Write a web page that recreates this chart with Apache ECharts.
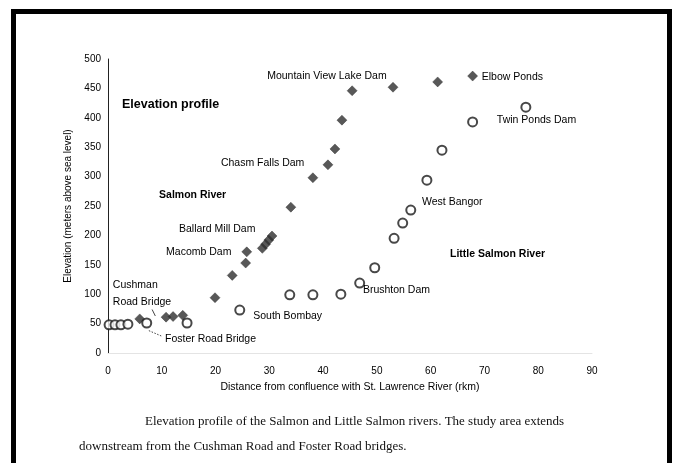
<!DOCTYPE html>
<html>
<head>
<meta charset="utf-8">
<script src="https://cdn.jsdelivr.net/npm/echarts@6/dist/echarts.min.js"></script>
<style>
html,body{margin:0;padding:0;background:#fff;}
#chart{width:673px;height:463px;}
</style>
</head>
<body>
<div id="chart"></div>
<script>
// Salmon River (filled diamonds): [distance rkm, elevation m]
const salmonRiver = [
  [5.9, 58], [10.8, 61], [12.1, 62], [13.9, 64], [19.9, 94], [23.1, 132],
  [25.6, 153], [25.8, 172], [28.7, 178], [29.3, 185], [29.9, 192], [30.5, 199],
  [34.0, 248], [38.1, 298], [40.9, 320], [42.2, 347], [43.5, 396], [45.4, 446],
  [53.0, 452], [61.3, 461], [67.8, 471]
];
// Little Salmon River (open circles)
const littleSalmonRiver = [
  [0.2, 48], [1.3, 48], [2.4, 48], [3.7, 49], [7.2, 51], [14.7, 51],
  [24.5, 73], [33.8, 99], [38.1, 99], [43.3, 100], [46.8, 119], [49.6, 145],
  [53.2, 195], [54.8, 221], [56.3, 243], [59.3, 294], [62.1, 345], [67.8, 393],
  [77.7, 418]
];
const xTicks = [0, 10, 20, 30, 40, 50, 60, 70, 80, 90];
const yTicks = [0, 50, 100, 150, 200, 250, 300, 350, 400, 450, 500];
// Annotations: [x, y, text]
const siteLabels = [
  [29.6, 471, 'Mountain View Lake Dam'],
  [69.5, 469, 'Elbow Ponds'],
  [72.3, 396, 'Twin Ponds Dam'],
  [21.0, 323, 'Chasm Falls Dam'],
  [58.4, 257, 'West Bangor'],
  [13.2, 211, 'Ballard Mill Dam'],
  [10.8, 172, 'Macomb Dam'],
  [0.9, 116, 'Cushman'],
  [0.9, 87, 'Road Bridge'],
  [47.4, 107, 'Brushton Dam'],
  [27.0, 63, 'South Bombay'],
  [10.6, 24, 'Foster Road Bridge']
];
const riverLabels = [
  [9.5, 269, 'Salmon River'],
  [63.6, 168, 'Little Salmon River']
];
const titleLabel = [[2.6, 423, 'Elevation profile']];
const captionLines = [
  'Elevation profile of the Salmon and Little Salmon rivers. The study area extends',
  'downstream from the Cushman Road and Foster Road bridges.'
];

const sans = 'Liberation Sans, Arial, sans-serif';
const ink = '#000';
const chart = echarts.init(document.getElementById('chart'), null, {renderer: 'canvas'});

function textSeries(arr, size, weight) {
  return {
    type: 'scatter', symbolSize: 0, silent: true, z: 5,
    data: arr.map(a => ({value: [a[0], a[1]], name: a[2]})),
    label: {
      show: true, position: 'right', distance: 0, formatter: p => p.name,
      fontFamily: sans, fontSize: size, fontWeight: weight, color: ink, opacity: 1
    }
  };
}

chart.setOption({
  animation: false,
  backgroundColor: '#fff',
  grid: {left: 108, top: 59, width: 484, height: 294, containLabel: false},
  xAxis: {
    type: 'value', min: 0, max: 90, interval: 10,
    name: 'Distance from confluence with St. Lawrence River (rkm)',
    nameLocation: 'middle', nameGap: 29,
    nameTextStyle: {fontFamily: sans, fontSize: 10.5, color: ink},
    axisLine: {show: true, lineStyle: {color: '#e4e4e4', width: 1}},
    axisTick: {show: false},
    splitLine: {show: false},
    axisLabel: {fontFamily: sans, fontSize: 10, color: ink, margin: 13,
      formatter: v => xTicks.includes(v) ? String(v) : ''}
  },
  yAxis: {
    type: 'value', min: 0, max: 500, interval: 50,
    name: 'Elevation (meters above sea level)',
    nameLocation: 'middle', nameGap: 31, nameRotate: 90,
    nameTextStyle: {fontFamily: sans, fontSize: 10, color: ink},
    axisLine: {show: true, lineStyle: {color: '#222', width: 1}},
    axisTick: {show: false},
    splitLine: {show: false},
    axisLabel: {fontFamily: sans, fontSize: 10, color: ink, margin: 7,
      formatter: v => yTicks.includes(v) ? String(v) : ''}
  },
  series: [
    {
      name: 'Salmon River', type: 'scatter', symbol: 'diamond', symbolSize: 10, z: 3,
      itemStyle: {color: '#2e2e2e', borderColor: '#2e2e2e', borderWidth: 0.5},
      data: salmonRiver
    },
    {
      name: 'Little Salmon River', type: 'scatter', symbol: 'emptyCircle', symbolSize: 9, z: 4,
      itemStyle: {color: '#1a1a1a', borderColor: '#1a1a1a', borderWidth: 1.6},
      data: littleSalmonRiver
    },
    {
      type: 'line', silent: true, symbol: 'none', z: 2,
      lineStyle: {color: '#444', width: 1, type: [1.5, 1.5]},
      data: [[7.6, 38], [9.9, 29]]
    },
    {
      type: 'line', silent: true, symbol: 'none', z: 2,
      lineStyle: {color: '#444', width: 1},
      data: [[8.2, 74], [8.8, 63]]
    },
    textSeries(siteLabels, 10.5, 'normal'),
    textSeries(riverLabels, 10.5, 'bold'),
    textSeries(titleLabel, 12.5, 'bold')
  ],
  graphic: [
    {type: 'text', left: 145, top: 415, silent: true,
      style: {text: captionLines[0], fontFamily: 'Liberation Serif, Times New Roman, serif', fontSize: 13, fill: '#111'}},
    {type: 'text', left: 79, top: 440, silent: true,
      style: {text: captionLines[1], fontFamily: 'Liberation Serif, Times New Roman, serif', fontSize: 13, fill: '#111'}},
    {type: 'rect', silent: true, z: 100,
      shape: {x: 13.5, y: 11.5, width: 656, height: 460},
      style: {fill: 'none', stroke: '#000', lineWidth: 5}}
  ]
});
</script>
</body>
</html>
